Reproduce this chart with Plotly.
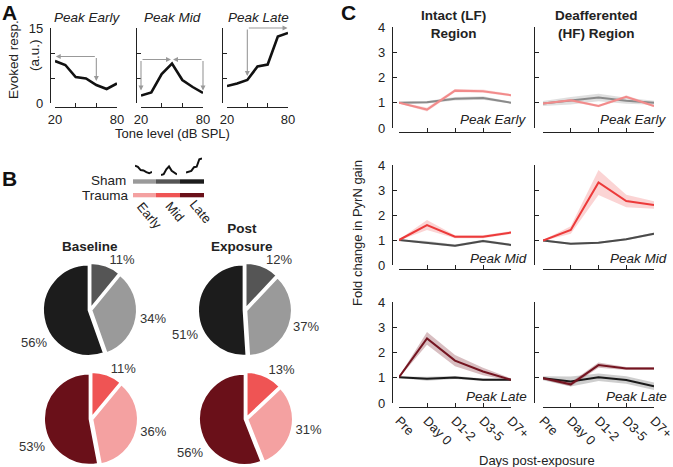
import math
import plotly.graph_objects as go

W, H = 673, 467

# ---------------- Panel A data ----------------
tone_levels = [20, 30, 40, 50, 60, 70, 80]
resp_early = [8.4, 7.6, 5.2, 4.9, 3.6, 2.8, 3.9]
resp_mid = [1.5, 2.1, 5.8, 7.9, 4.6, 3.2, 2.0]
resp_late = [3.4, 3.9, 4.6, 7.3, 7.7, 13.3, 14.0]
a_titles = ["Peak Early", "Peak Mid", "Peak Late"]

# ---------------- Panel B data ----------------
pie_groups = ["Mid", "Early", "Late"]          # clockwise from 12 o'clock
sham_baseline = [11, 34, 56]
sham_post = [12, 37, 51]
trauma_baseline = [11, 36, 53]
trauma_post = [13, 31, 56]
legend_groups = ["Early", "Mid", "Late"]

# ---------------- Panel C data ----------------
days = ["Pre", "Day 0", "D1-2", "D3-5", "D7+"]
c_early_lf_trauma = [1.00, 0.73, 1.48, 1.46, 1.30]
c_early_lf_trauma_sem = [0.03, 0.08, 0.06, 0.06, 0.05]
c_early_lf_sham = [1.00, 1.02, 1.16, 1.19, 1.00]
c_early_lf_sham_sem = [0.04, 0.05, 0.07, 0.07, 0.04]
c_early_hf_trauma = [0.97, 1.10, 0.87, 1.24, 0.87]
c_early_hf_trauma_sem = [0.03, 0.05, 0.05, 0.06, 0.05]
c_early_hf_sham = [0.97, 1.08, 1.21, 1.08, 1.00]
c_early_hf_sham_sem = [0.10, 0.15, 0.15, 0.12, 0.08]

c_mid_lf_trauma = [1.00, 1.60, 1.13, 1.13, 1.30]
c_mid_lf_trauma_sem = [0.02, 0.20, 0.06, 0.06, 0.06]
c_mid_lf_sham = [1.00, 0.90, 0.77, 0.96, 0.80]
c_mid_lf_sham_sem = [0.03, 0.06, 0.05, 0.05, 0.05]
c_mid_hf_trauma = [0.98, 1.40, 3.30, 2.56, 2.40]
c_mid_hf_trauma_sem = [0.02, 0.15, 0.50, 0.25, 0.15]
c_mid_hf_sham = [0.98, 0.85, 0.89, 1.03, 1.25]
c_mid_hf_sham_sem = [0.04, 0.04, 0.04, 0.04, 0.05]

c_late_lf_trauma = [1.02, 2.56, 1.68, 1.25, 0.92]
c_late_lf_trauma_sem = [0.03, 0.25, 0.22, 0.15, 0.05]
c_late_lf_sham = [1.02, 0.96, 1.01, 0.92, 0.92]
c_late_lf_sham_sem = [0.03, 0.08, 0.06, 0.05, 0.04]
c_late_hf_trauma = [0.98, 0.74, 1.50, 1.37, 1.37]
c_late_hf_trauma_sem = [0.05, 0.08, 0.10, 0.06, 0.06]
c_late_hf_sham = [0.98, 0.85, 1.02, 0.91, 0.66]
c_late_hf_sham_sem = [0.08, 0.20, 0.15, 0.15, 0.15]

c_titles = ["Intact (LF)<br>Region", "Deafferented<br>(HF) Region"]
c_row_labels = ["Peak Early", "Peak Mid", "Peak Late"]

# ---------------- styles ----------------
SHAM_COLORS = {"Early": "#9a9a9a", "Mid": "#555555", "Late": "#1c1c1c"}
TRAUMA_COLORS = {"Early": "#f4a1a1", "Mid": "#ef5454", "Late": "#6a1019"}
C_SHAM_LINE = ["#8a8a8a", "#4a4a4a", "#1a1a1a"]
C_TRAUMA_LINE = ["#f28b8b", "#ec3a3a", "#741420"]
C_SHAM_FILL = ["rgba(140,140,140,0.28)", "rgba(90,90,90,0.28)", "rgba(60,60,60,0.25)"]
C_TRAUMA_FILL = ["rgba(242,139,139,0.28)", "rgba(236,58,58,0.22)", "rgba(116,20,32,0.28)"]
INK = "#222222"
FONT = "Liberation Sans, Arial, Helvetica, sans-serif"


def px_x(v):
    return v / W


def px_y(v):
    return 1 - v / H


def axname(kind, n):
    return kind + ("" if n == 1 else str(n))


def note(text, x, y, size=13, xanchor="center", angle=0, color=INK):
    return dict(text=text, x=px_x(x), y=px_y(y), xref="paper", yref="paper", showarrow=False,
                xanchor=xanchor, yanchor="middle", textangle=angle, borderpad=0,
                font=dict(size=size, color=color, family=FONT))


axis_common = dict(showgrid=False, zeroline=False, showline=True, linecolor=INK,
                   linewidth=1.3, ticks="inside", ticklen=4, tickcolor=INK,
                   tickwidth=1.3, tickfont=dict(size=13, color=INK, family=FONT),
                   fixedrange=True, automargin=False, ticklabeloverflow="allow")

fig = go.Figure()
layout = dict(width=W, height=H, margin=dict(l=0, r=0, t=0, b=0, pad=0), autosize=False,
              paper_bgcolor="white", plot_bgcolor="white", showlegend=False,
              font=dict(family=FONT, size=13, color=INK))
annotations = []
shapes = []

# ================= Panel A =================
a_series = [resp_early, resp_mid, resp_late]
a_xdom = [(55, 117), (141, 203), (227, 288)]
a_ypos = [50, 136, 222]
for i in range(3):
    n = i + 1
    layout[axname("xaxis", n)] = dict(axis_common, domain=[px_x(a_xdom[i][0]), px_x(a_xdom[i][1])],
                                      range=[20, 80], anchor="free", position=px_y(107),
                                      tickvals=[20, 40, 60, 80], ticktext=["20", "", "", "80"])
    layout[axname("yaxis", n)] = dict(axis_common, domain=[px_y(103), px_y(28)], range=[0, 15],
                                      anchor="free", position=px_x(a_ypos[i]),
                                      tickvals=[0, 5, 10, 15],
                                      ticktext=["0", "", "", "15"] if i == 0 else [""] * 4,
                                      ticklabelstandoff=4)
    fig.add_trace(go.Scatter(x=tone_levels, y=a_series[i], mode="lines",
                             line=dict(color="#111111", width=2.6),
                             xaxis=axname("x", n), yaxis=axname("y", n), hoverinfo="skip"))
    annotations.append(note("<i>%s</i>" % a_titles[i], (a_xdom[i][0] + a_xdom[i][1]) / 2 + 1, 17, 13.5))

# arrows in panel A  (head x,y ; tail ax,ay)
arrow_specs = [
    (1, 20.8, 9.3, 60, 9.3), (1, 60, 4.4, 60, 9.3),
    (2, 49, 8.7, 20, 8.7), (2, 20, 2.5, 20, 8.7),
    (2, 51, 8.7, 80, 8.7), (2, 80, 2.5, 80, 8.7),
    (3, 79.5, 15.0, 40, 15.0), (3, 40, 5.4, 40, 15.0),
]
for n, hx, hy, tx, ty in arrow_specs:
    annotations.append(dict(x=hx, y=hy, ax=tx, ay=ty, xref=axname("x", n), yref=axname("y", n),
                            axref=axname("x", n), ayref=axname("y", n), text="", showarrow=True,
                            arrowhead=2, arrowsize=0.9, arrowwidth=1.1, arrowcolor="#999999",
                            standoff=0, startstandoff=0))

annotations.append(note("Evoked resp.", 14, 60, 13.5, angle=-90))
annotations.append(note("(a.u.)", 34, 55, 13.5, angle=-90))
annotations.append(note("Tone level (dB SPL)", 173, 134, 13))

# ================= Panel B =================
# glyph axes reuse panel A curves
glyph_xdom = [(135, 152), (161, 177), (186, 202)]
for i in range(3):
    n = 10 + i
    layout[axname("xaxis", n)] = dict(domain=[px_x(glyph_xdom[i][0]), px_x(glyph_xdom[i][1])],
                                      range=[20, 80], visible=False, anchor=axname("y", n),
                                      fixedrange=True, automargin=False)
    layout[axname("yaxis", n)] = dict(domain=[px_y(177), px_y(157)], range=[0, 15], visible=False,
                                      anchor=axname("x", n), fixedrange=True, automargin=False)
    fig.add_trace(go.Scatter(x=tone_levels, y=a_series[i], mode="lines",
                             line=dict(color="#111111", width=2),
                             xaxis=axname("x", n), yaxis=axname("y", n), hoverinfo="skip"))

bar_x = [(133, 156), (156, 180), (180, 204)]
for j, g in enumerate(legend_groups):
    shapes.append(dict(type="rect", xref="paper", yref="paper", x0=px_x(bar_x[j][0]), x1=px_x(bar_x[j][1]),
                       y0=px_y(183.7), y1=px_y(179.3), fillcolor=SHAM_COLORS[g], line=dict(width=0)))
    shapes.append(dict(type="rect", xref="paper", yref="paper", x0=px_x(bar_x[j][0]), x1=px_x(bar_x[j][1]),
                       y0=px_y(197.3), y1=px_y(193), fillcolor=TRAUMA_COLORS[g], line=dict(width=0)))
annotations.append(note("Sham", 127, 180, 13.5, xanchor="right"))
annotations.append(note("Trauma", 129.5, 195.5, 13.5, xanchor="right"))
lg_pos = [(149, 216), (175, 211), (200.5, 211.5)]
for j, g in enumerate(legend_groups):
    annotations.append(note(g, lg_pos[j][0], lg_pos[j][1], 13, angle=50))

annotations.append(note("<b>Baseline</b>", 90, 246, 13.5))
annotations.append(note("<b>Post<br>Exposure</b>", 242, 237.5, 13.5))

pie_specs = [
    (sham_baseline, SHAM_COLORS, (43, 137), (263, 357)),
    (sham_post, SHAM_COLORS, (198, 292), (263, 357)),
    (trauma_baseline, TRAUMA_COLORS, (44, 138), (372, 466)),
    (trauma_post, TRAUMA_COLORS, (199, 293), (372, 466)),
]
for vals, cmap, dx, dy in pie_specs:
    # the two smaller slices are labelled by the pie itself; the large one beside it
    pie_text = ["%d%%" % v for v in vals[:-1]] + [""]
    fig.add_trace(go.Pie(values=vals, labels=pie_groups, sort=False, direction="clockwise", rotation=0,
                         marker=dict(colors=[cmap[g] for g in pie_groups], line=dict(color="white", width=2)),
                         pull=[0.03, 0.03, 0.03], text=pie_text, textinfo="text", textposition="outside",
                         textfont=dict(size=13, color="#333333", family=FONT), hoverinfo="skip",
                         automargin=False,
                         domain=dict(x=[px_x(dx[0]), px_x(dx[1])], y=[px_y(dy[1]), px_y(dy[0])])))
    total = float(sum(vals))
    start = sum(vals[:-1]) / total * 360.0
    mid = (start + 360.0) / 2.0 - 20.0
    cx, cy = (dx[0] + dx[1]) / 2.0, (dy[0] + dy[1]) / 2.0
    lx = cx + 65 * math.sin(math.radians(mid))
    ly = cy - 65 * math.cos(math.radians(mid))
    annotations.append(note("%d%%" % vals[-1], lx, ly, 13, color="#333333"))

# ================= Panel C =================
c_data = [
    [(c_early_lf_trauma, c_early_lf_trauma_sem, c_early_lf_sham, c_early_lf_sham_sem),
     (c_early_hf_trauma, c_early_hf_trauma_sem, c_early_hf_sham, c_early_hf_sham_sem)],
    [(c_mid_lf_trauma, c_mid_lf_trauma_sem, c_mid_lf_sham, c_mid_lf_sham_sem),
     (c_mid_hf_trauma, c_mid_hf_trauma_sem, c_mid_hf_sham, c_mid_hf_sham_sem)],
    [(c_late_lf_trauma, c_late_lf_trauma_sem, c_late_lf_sham, c_late_lf_sham_sem),
     (c_late_hf_trauma, c_late_hf_trauma_sem, c_late_hf_sham, c_late_hf_sham_sem)],
]
row_ydom = [(27, 128), (165, 265), (302, 403)]
row_xpos = [132, 269, 407]
col_xdom = [(399, 511), (543, 654)]
col_ypos = [392, 534]
row_label_y = [120, 258, 396.5]
col_label_right = [528, 668]
xs = list(range(len(days)))

n = 4
for r in range(3):
    for c in range(2):
        xa, ya = axname("x", n), axname("y", n)
        layout[axname("xaxis", n)] = dict(axis_common, domain=[px_x(col_xdom[c][0]), px_x(col_xdom[c][1])],
                                          range=[0, 4], anchor="free", position=px_y(row_xpos[r]),
                                          tickvals=xs, ticktext=days if r == 2 else [""] * 5,
                                          tickangle=45)
        layout[axname("yaxis", n)] = dict(axis_common, domain=[px_y(row_ydom[r][1]), px_y(row_ydom[r][0])],
                                          range=[0, 4], anchor="free", position=px_x(col_ypos[c]),
                                          tickvals=[0, 1, 2, 3, 4],
                                          ticktext=["0", "1", "2", "3", "4"] if c == 0 else [""] * 5,
                                          ticklabelstandoff=4)
        tr, tr_sem, sh, sh_sem = c_data[r][c]
        for vals, sem, fillc, linec in [(sh, sh_sem, C_SHAM_FILL[r], C_SHAM_LINE[r]),
                                        (tr, tr_sem, C_TRAUMA_FILL[r], C_TRAUMA_LINE[r])]:
            upper = [v + s for v, s in zip(vals, sem)]
            lower = [v - s for v, s in zip(vals, sem)]
            fig.add_trace(go.Scatter(x=xs + xs[::-1], y=upper + lower[::-1], fill="toself",
                                     fillcolor=fillc, line=dict(width=0), mode="lines",
                                     xaxis=xa, yaxis=ya, hoverinfo="skip"))
            fig.add_trace(go.Scatter(x=xs, y=vals, mode="lines", line=dict(color=linec, width=2),
                                     xaxis=xa, yaxis=ya, hoverinfo="skip"))
        annotations.append(note("<i>%s</i>" % c_row_labels[r], col_label_right[c], row_label_y[r], 13.5,
                                xanchor="right"))
        n += 1

for c in range(2):
    annotations.append(note("<b>%s</b>" % c_titles[c], (col_xdom[c][0] + col_xdom[c][1]) / 2 - 2, 24.5, 13.5))

annotations.append(note("Fold change in PyrN gain", 357, 233, 13, angle=-90))
annotations.append(note("Days post-exposure", 537, 460, 13))

# panel letters
for letter, lx, ly in [("A", 9, 13), ("B", 9, 178), ("C", 348, 13)]:
    annotations.append(note("<b>%s</b>" % letter, lx, ly, 21, color="#111111"))

layout["annotations"] = annotations
layout["shapes"] = shapes
fig.update_layout(**layout)
fig.write_html("out.html", config={"displayModeBar": False},
               post_script="document.body.style.margin='0';document.body.style.padding='0';")
